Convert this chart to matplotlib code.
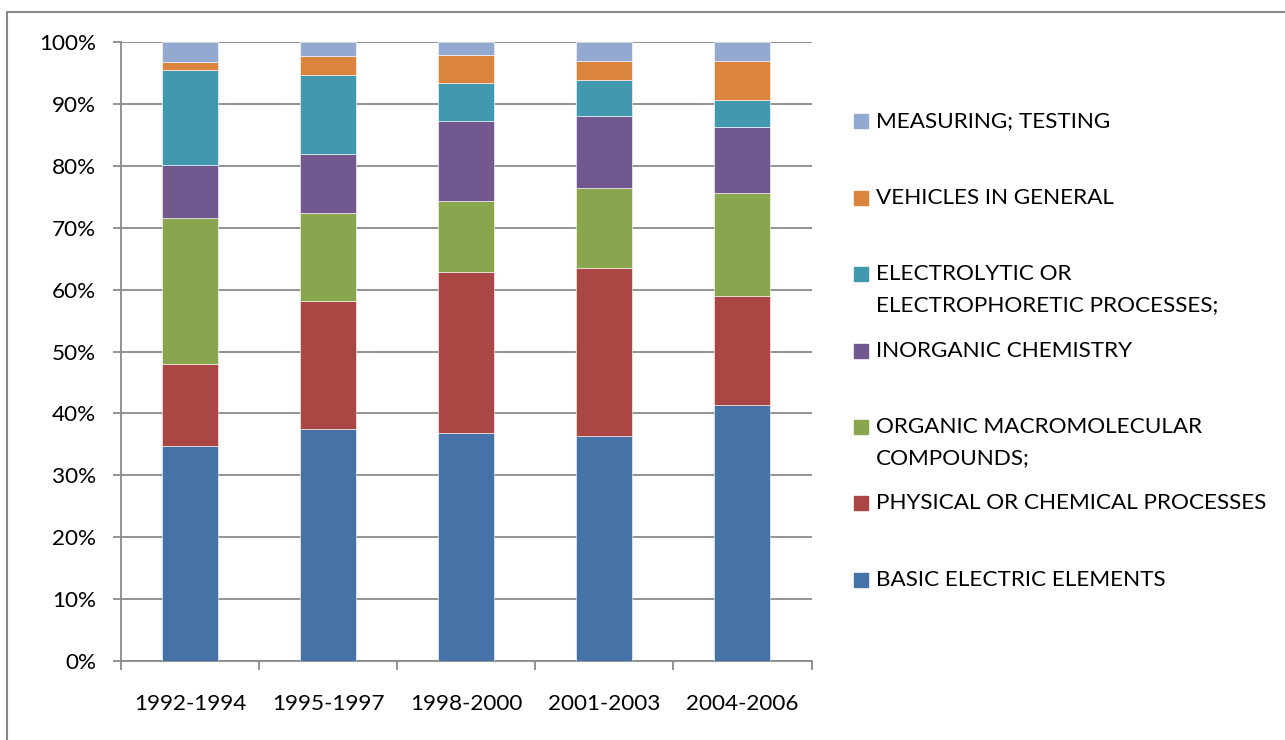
import matplotlib
matplotlib.use("Agg")
import matplotlib.pyplot as plt
from matplotlib.patches import Rectangle
from matplotlib.ticker import PercentFormatter, FixedLocator
import numpy as np

periods = ["1992-1994", "1995-1997", "1998-2000", "2001-2003", "2004-2006"]

# share of each technology field per period (%), stacked bottom to top
basic_electric = [34.8, 37.5, 36.8, 36.3, 41.3]
physical_chemical = [13.2, 20.7, 26.0, 27.2, 17.6]
organic_macro = [23.6, 14.2, 11.5, 12.9, 16.7]
inorganic_chem = [8.5, 9.5, 13.0, 11.6, 10.6]
electrolytic = [15.3, 12.7, 6.0, 5.9, 4.5]
vehicles = [1.3, 3.2, 4.6, 3.1, 6.3]
measuring = [3.3, 2.2, 2.1, 3.0, 3.0]

series = [basic_electric, physical_chemical, organic_macro, inorganic_chem,
          electrolytic, vehicles, measuring]
labels = ["BASIC ELECTRIC ELEMENTS", "PHYSICAL OR CHEMICAL PROCESSES",
          "ORGANIC MACROMOLECULAR\nCOMPOUNDS;", "INORGANIC CHEMISTRY",
          "ELECTROLYTIC OR\nELECTROPHORETIC PROCESSES;", "VEHICLES IN GENERAL",
          "MEASURING; TESTING"]
colors = ["#4572A7", "#AA4643", "#89A54E", "#71588F", "#4198AF", "#DB843D", "#93A9CF"]

W, H = 1285, 740
plt.rcParams["font.family"] = ["Lato", "DejaVu Sans"]
FS = 16.2

fig = plt.figure(figsize=(W / 100, H / 100), dpi=100)
fig.patch.set_facecolor("white")

# outer chart frame (open to the right/bottom edges)
fig.patches.append(Rectangle((7 / W, -0.1), 1.2, (740 - 12) / H + 0.1,
                             transform=fig.transFigure, fill=False,
                             edgecolor="#888888", linewidth=1.5))

ax = fig.add_axes([121 / W, (H - 661) / H, (811.5 - 121) / W, (661 - 42) / H])

x = np.arange(len(periods))
totals = np.sum(series, axis=0)
bottom = np.zeros(len(periods))
for vals, col in zip(series, colors):
    share = np.array(vals) / totals * 100
    ax.bar(x, share, width=0.405, bottom=bottom, color=col,
           edgecolor="white", linewidth=0.4, zorder=3)
    bottom += share

ax.set_xlim(-0.5, len(periods) - 0.5)
ax.set_ylim(0, 100)
ax.yaxis.set_major_locator(FixedLocator(np.arange(0, 101, 10)))
ax.yaxis.set_major_formatter(PercentFormatter(decimals=0))
ax.grid(axis="y", color="#8a8a8a", linewidth=1.3, zorder=0)

for side in ["top", "right"]:
    ax.spines[side].set_visible(False)
for side in ["left", "bottom"]:
    ax.spines[side].set_color("#8a8a8a")
    ax.spines[side].set_linewidth(1.3)

ax.set_xticks(x)
ax.set_xticklabels(periods)
ax.set_xticks(np.arange(-0.5, len(periods)), minor=True)
ax.tick_params(axis="x", which="major", length=0, pad=24, labelsize=FS,
               labelcolor="black")
ax.tick_params(axis="x", which="minor", length=6.5, width=1.3, color="#8a8a8a")
ax.tick_params(axis="y", length=6, width=1.3, color="#8a8a8a", pad=12,
               labelsize=FS, labelcolor="black")

# legend, top entry first; wrapped labels continue 31 px lower
legend_rows = [120.7, 198, 274, 351, 427, 503, 580]
for (lab, col), yp in zip(list(zip(labels, colors))[::-1], legend_rows):
    fig.patches.append(Rectangle((854 / W, 1 - (yp + 7) / H), 14 / W, 14 / H,
                                 transform=fig.transFigure, color=col))
    for i, line in enumerate(lab.split("\n")):
        fig.text(876 / W, 1 - (yp + 31 * i) / H, line, fontsize=FS,
                 va="center", ha="left", color="black")

fig.savefig("out.png", dpi=100, facecolor="white")
